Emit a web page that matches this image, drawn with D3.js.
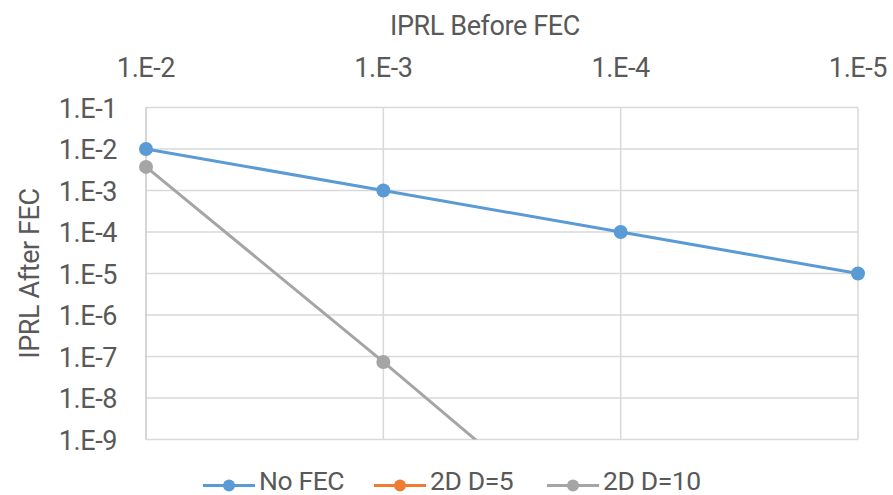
<!DOCTYPE html>
<html>
<head>
<meta charset="utf-8">
<script src="https://cdn.jsdelivr.net/npm/d3@7"></script>
<style>
  body { margin: 0; background: #fff; }
  text { font-family: "Liberation Sans Narrow", "Roboto", sans-serif; fill: #595959; letter-spacing: -0.4px; }
</style>
</head>
<body>
<svg width="893" height="495"></svg>
<script>
// x values (IPRL before FEC)
const xVals = [1e-2, 1e-3, 1e-4, 1e-5]
const xTicks = [1e-2, 1e-3, 1e-4, 1e-5]
const yTicks = [1e-1, 1e-2, 1e-3, 1e-4, 1e-5, 1e-6, 1e-7, 1e-8, 1e-9]
// series values (IPRL after FEC)
const noFec = [1e-2, 1e-3, 1e-4, 1e-5]
const d5 = [null, null, null, null]     // nothing visible in range
const d10 = [3.7e-3, 7.4e-8, 1.1e-12, null]
const seriesNames = ['No FEC', '2D D=5', '2D D=10']
const colors = ['#5b9bd5', '#ed7d31', '#a5a5a5']

const svg = d3.select('svg')
const pLeft = 146, pRight = 858, pTop = 107.5, pBottom = 439.5

const x = d3.scaleLog().domain([1e-2, 1e-5]).range([pLeft, pRight])
const y = d3.scaleLog().domain([1e-1, 1e-9]).range([pTop, pBottom])
const fmt = v => '1.E-' + Math.round(-Math.log10(v))

// gridlines
svg.append('g').selectAll('line').data(yTicks).enter().append('line')
  .attr('x1', pLeft).attr('x2', pRight)
  .attr('y1', d => y(d)).attr('y2', d => y(d))
  .attr('stroke', '#d9d9d9').attr('stroke-width', 1.5)
svg.append('g').selectAll('line').data(xTicks).enter().append('line')
  .attr('x1', d => x(d)).attr('x2', d => x(d))
  .attr('y1', pTop).attr('y2', pBottom)
  .attr('stroke', d => d == 1e-2 ? '#c8c8c8' : '#d9d9d9').attr('stroke-width', 1.5)

// tick labels
svg.append('g').selectAll('text').data(xTicks).enter().append('text')
  .attr('x', d => x(d)).attr('y', 77)
  .attr('text-anchor', 'middle').attr('font-size', 27)
  .text(fmt)
svg.append('g').selectAll('text').data(yTicks).enter().append('text')
  .attr('x', 117).attr('y', d => y(d) + 10)
  .attr('text-anchor', 'end').attr('font-size', 27)
  .text(fmt)

// axis titles
svg.append('text').attr('x', 485).attr('y', 35)
  .attr('text-anchor', 'middle').attr('font-size', 27)
  .text('IPRL Before FEC')
svg.append('text')
  .attr('transform', `translate(39, ${(pTop + pBottom) / 2}) rotate(-90)`)
  .attr('text-anchor', 'middle').attr('font-size', 27)
  .text('IPRL After FEC')

// clip
svg.append('clipPath').attr('id', 'clip').append('rect')
  .attr('x', 0).attr('y', pTop - 12).attr('width', 893).attr('height', pBottom - pTop + 12)

const allSeries = [noFec, d5, d10]
const lineGen = d3.line()
  .defined(d => d[1] != null)
  .x(d => x(d[0])).y(d => y(d[1]))

const plot = svg.append('g').attr('clip-path', 'url(#clip)')
allSeries.forEach((vals, i) => {
  const pts = xVals.map((v, j) => [v, vals[j]])
  plot.append('path').datum(pts)
    .attr('d', lineGen)
    .attr('fill', 'none').attr('stroke', colors[i]).attr('stroke-width', 3)
  plot.selectAll('.pt' + i).data(pts.filter(p => p[1] != null && p[1] >= 1e-9)).enter()
    .append('circle').attr('class', 'pt' + i)
    .attr('cx', d => x(d[0])).attr('cy', d => y(d[1]))
    .attr('r', 7).attr('fill', colors[i])
})

// legend
const legX = [203, 374, 547]
const legend = svg.append('g')
seriesNames.forEach((name, i) => {
  legend.append('line')
    .attr('x1', legX[i]).attr('x2', legX[i] + 52)
    .attr('y1', 485.5).attr('y2', 485.5)
    .attr('stroke', colors[i]).attr('stroke-width', 3)
  legend.append('circle')
    .attr('cx', legX[i] + 26).attr('cy', 485.5).attr('r', 6).attr('fill', colors[i])
  legend.append('text')
    .attr('x', legX[i] + 56).attr('y', 490)
    .attr('font-size', 26.5)
    .text(name)
})
</script>
</body>
</html>
